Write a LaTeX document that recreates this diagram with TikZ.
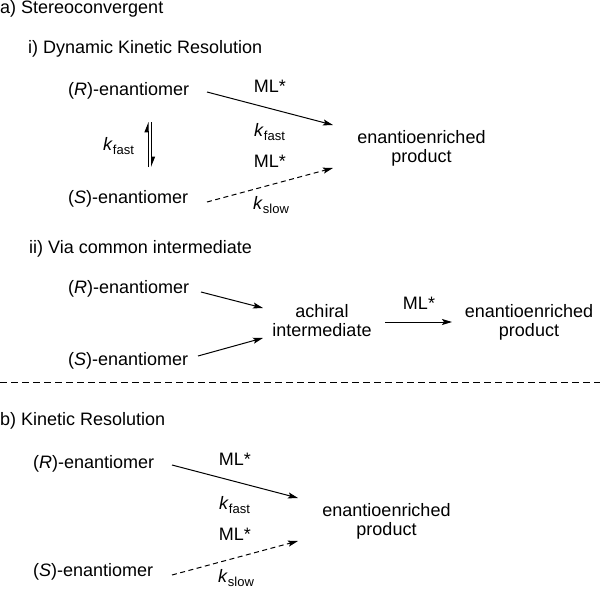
\documentclass[tikz,border=0pt]{standalone}
\usepackage{fontspec}
\setmainfont{Liberation Sans}
\usetikzlibrary{arrows.meta}
\newcommand{\ksub}[1]{\textit{k}\raisebox{-4.5pt}{\fontsize{13}{13}\selectfont #1}}
\begin{document}
\begin{tikzpicture}[x=1pt,y=-1pt,
  txt/.style={inner sep=0pt, font=\fontsize{18}{19}\selectfont},
  lbl/.style={txt, anchor=base west},
  cen/.style={txt, anchor=base},
  two/.style={txt, align=center, anchor=center},
  rxn/.style={line width=1pt, -{Stealth[length=10pt,width=6pt,inset=2pt]}},
  dsh/.style={rxn, dash pattern=on 5pt off 3.5pt},
  eqarrow/.style={line width=1pt, -{Stealth[left,length=9pt,width=7pt,inset=0pt]}},
  sep/.style={line width=0.8pt, dash pattern=on 7pt off 4pt}
]
\useasboundingbox (0,0) rectangle (600,589);

% ---------- a) i) ----------
\node[lbl] (ta) at (0,13) {a) Stereoconvergent};
\node[lbl] (ti) at (28,53) {i) Dynamic Kinetic Resolution};
\node[lbl] (r1) at (68,95) {(\textit{R})-enantiomer};
\node[lbl] (s1) at (68,203) {(\textit{S})-enantiomer};
\node[two] (p1) at (421.5,147.9) {enantioenriched\\product};
\node[cen] (m1a) at (270,92) {ML*};
\node[lbl] (k1a) at (254,136) {\ksub{fast}};
\node[cen] (m1b) at (270,167) {ML*};
\node[lbl] (k1b) at (253,209) {\ksub{slow}};
\node[lbl] (k1e) at (103,150) {\ksub{fast}};

\coordinate (a1s) at (207,92);
\coordinate (a1e) at (333,125);
\coordinate (b1s) at (207,202);
\coordinate (b1e) at (333,168);
\draw[rxn] (a1s) -- (a1e);
\draw[dsh] (b1s) -- (b1e);

\coordinate (eqLb) at (148,167);
\coordinate (eqLt) at (148,122);
\coordinate (eqRt) at (151.5,122);
\coordinate (eqRb) at (151.5,167);
\draw[eqarrow] (eqLb) -- (eqLt);
\draw[eqarrow] (eqRt) -- (eqRb);

% ---------- a) ii) ----------
\node[lbl] (tii) at (29,253) {ii) Via common intermediate};
\node[lbl] (r2) at (68,293) {(\textit{R})-enantiomer};
\node[lbl] (s2) at (68,365) {(\textit{S})-enantiomer};
\node[two] (ai) at (322,321) {achiral\\intermediate};
\node[two] (p2) at (529,321.9) {enantioenriched\\product};
\node[cen] (m2) at (419,309) {ML*};

\coordinate (c1s) at (201,292);
\coordinate (c1e) at (263,308);
\coordinate (c2s) at (198,356);
\coordinate (c2e) at (263,338);
\coordinate (c3s) at (385,322);
\coordinate (c3e) at (452,322);
\draw[rxn] (c1s) -- (c1e);
\draw[rxn] (c2s) -- (c2e);
\draw[rxn] (c3s) -- (c3e);

% ---------- separator ----------
\coordinate (sepL) at (0,382);
\coordinate (sepR) at (600,382);
\draw[sep] (sepL) -- (sepR);

% ---------- b) ----------
\node[lbl] (tb) at (0,425) {b) Kinetic Resolution};
\node[lbl] (r3) at (33,468) {(\textit{R})-enantiomer};
\node[lbl] (s3) at (33,576) {(\textit{S})-enantiomer};
\node[two] (p3) at (386.5,520.9) {enantioenriched\\product};
\node[cen] (m3a) at (235,465) {ML*};
\node[lbl] (k3a) at (219,509) {\ksub{fast}};
\node[cen] (m3b) at (235,540) {ML*};
\node[lbl] (k3b) at (218,582) {\ksub{slow}};

\coordinate (d1s) at (172,465);
\coordinate (d1e) at (298,498);
\coordinate (d2s) at (172,575);
\coordinate (d2e) at (298,541);
\draw[rxn] (d1s) -- (d1e);
\draw[dsh] (d2s) -- (d2e);
\end{tikzpicture}
\end{document}
